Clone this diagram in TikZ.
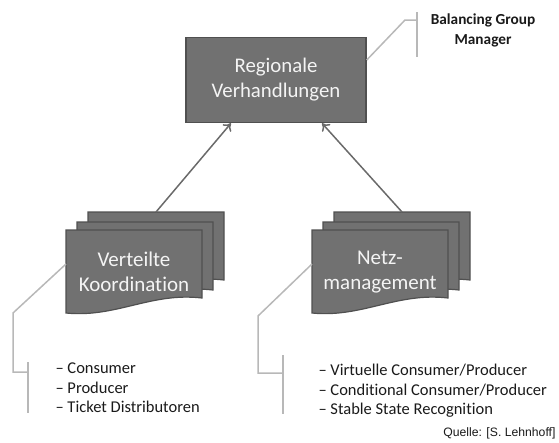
\documentclass[tikz,border=0pt]{standalone}
\usepackage{fontspec}
\setmainfont{Carlito}[Ligatures={NoCommon}]
\newfontfamily\quellefont{Liberation Sans}
\usetikzlibrary{arrows.meta}

\definecolor{boxgray}{HTML}{717171}
\definecolor{edgegray}{HTML}{505050}
\definecolor{linegray}{HTML}{6A6A6A}
\definecolor{callgray}{HTML}{B8B8B8}
\definecolor{txtwhite}{HTML}{F4F4F4}
\definecolor{txtdark}{HTML}{1A1A1A}

\tikzset{
  boxnode/.style={draw=edgegray, line width=1.5pt, fill=boxgray, minimum width=180pt,
    minimum height=85pt, text=txtwhite, align=center, font=\fontsize{20.8}{25}\selectfont},
  doctext/.style={text=txtwhite, align=center, font=\fontsize{21}{25}\selectfont},
  docsheetstyle/.style={draw=edgegray, line width=1.2pt, fill=boxgray},
  uparrow/.style={draw=linegray, line width=1.5pt, -{To[length=7pt,width=11pt]}},
  callout/.style={draw=callgray, line width=1.5pt},
  listtext/.style={text=txtdark, align=left, anchor=west, font=\fontsize{16.5}{19.5}\selectfont},
}

% one page of a document stack, top left corner at (#1,#2)
\newcommand{\docsheet}[2]{%
  \begin{scope}[shift={(#1,#2)}]
    \path[docsheetstyle] (0,0) -- (136,0) -- (136,68)
      .. controls (85,62) and (50,88) .. (0,83) -- cycle;
  \end{scope}}

% stack of three pages, front page at (#1,#2), named #3, text #4
\newcommand{\docstack}[4]{%
  \docsheet{#1+22}{#2-18}
  \docsheet{#1+11}{#2-8}
  \docsheet{#1}{#2}
  \node[doctext] (#3) at (#1+68,#2+42) {#4};
  \coordinate (#3-top) at (#1+90,#2-18);
  \coordinate (#3-side) at (#1,#2+34);}

\begin{document}
\begin{tikzpicture}[x=1pt, y=-1pt]
\useasboundingbox (0,0) rectangle (559,442);

% top box
\node[boxnode] (reg) at (276,80) {Regionale\\Verhandlungen};

% document stacks
\docstack{66}{230}{vk}{Verteilte\\Koordination}
\docstack{312}{230}{nm}{Netz-\\management}

% arrows up to the box
\draw[uparrow] (vk-top) -- ([xshift=-45pt]reg.south);
\draw[uparrow] (nm-top) -- ([xshift=46pt]reg.south);

% callout: balancing group manager
\coordinate (bgm-bar) at (417,20);
\draw[callout] ([yshift=20pt]reg.east) -- (405,20) -- (bgm-bar);
\draw[callout] (417,12) -- (417,57);
\node[text=txtdark, align=center, font=\bfseries\fontsize{15.3}{20}\selectfont] (bgm) at (483,30)
  {Balancing Group\\Manager};

% callout: verteilte koordination
\coordinate (vk-bar) at (28,372);
\draw[callout] (vk-side) -- (13,313) -- (13,372) -- (vk-bar);
\draw[callout] (28,362) -- (28,413);
\node[listtext] (vk-list) at (52,388)
  {\textendash{} Consumer\\\textendash{} Producer\\\textendash{} Ticket Distributoren};

% callout: netzmanagement
\coordinate (nm-bar) at (283,373);
\draw[callout] (nm-side) -- (258,316) -- (258,373) -- (nm-bar);
\draw[callout] (283,355) -- (283,414);
\node[listtext] (nm-list) at (315,391)
  {\textendash{} Virtuelle Consumer/Producer\\\textendash{} Conditional Consumer/Producer\\\textendash{} Stable State Recognition};

% source
\node[text=txtdark, anchor=east, font=\quellefont\fontsize{12.2}{14}\selectfont] (src) at (559,433)
  {Quelle: [S. Lehnhoff]};
\end{tikzpicture}
\end{document}
